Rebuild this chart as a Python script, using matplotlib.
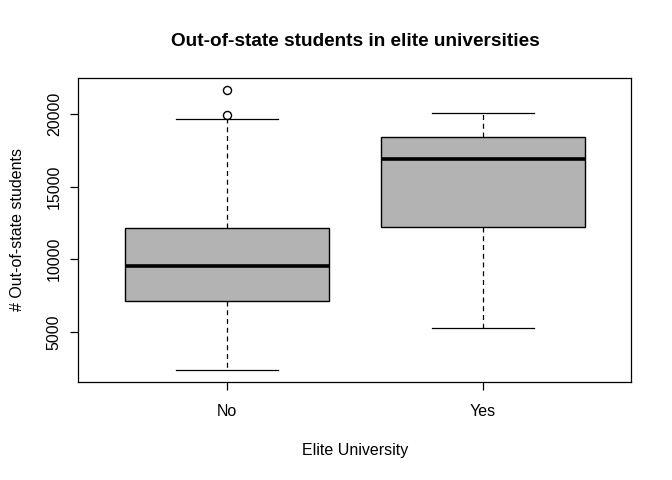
import matplotlib; matplotlib.use("Agg")
import matplotlib.pyplot as plt

plt.rcParams['font.family'] = ['Liberation Sans', 'DejaVu Sans']

groups = ["No", "Yes"]
whislo = [2340, 5250]
q1 = [7105, 12245]
med = [9560, 16945]
q3 = [12130, 18420]
whishi = [19680, 20110]
fliers = [[19960, 21700], []]

stats = [dict(label=g, whislo=lo, q1=a, med=m, q3=b, whishi=hi, fliers=f)
         for g, lo, a, m, b, hi, f in zip(groups, whislo, q1, med, q3, whishi, fliers)]

fig = plt.figure(figsize=(6.72, 4.8), dpi=100)
ax = fig.add_axes([0.1168, 0.2048, 0.8229, 0.6321])
ax.bxp(stats, positions=[1, 2], widths=0.8, patch_artist=True,
       boxprops=dict(facecolor='#b3b3b3', edgecolor='black', linewidth=1),
       medianprops=dict(color='black', linewidth=2.6, solid_capstyle='butt'),
       whiskerprops=dict(color='black', linewidth=0.9, linestyle=(0, (4, 3))),
       capprops=dict(color='black', linewidth=0.9),
       capwidths=0.4,
       flierprops=dict(marker='o', markerfacecolor='none', markeredgecolor='black',
                       markersize=5.8, markeredgewidth=1))

lo_all = min(whislo); hi_all = max(max(whishi), max(fliers[0]))
pad = 0.04 * (hi_all - lo_all)
ax.set_ylim(lo_all - pad, hi_all + pad)
ax.set_xlim(0.42, 2.58)
ax.set_yticks([5000, 10000, 15000, 20000])
ax.set_yticklabels(['5000', '10000', '15000', '20000'], rotation=90, va='center')
ax.set_xticks([1, 2])
ax.set_xticklabels(groups)
ax.tick_params(direction='out', length=6, width=0.9, labelsize=11.5, pad=10)
ax.tick_params(axis='y', pad=6)
for s in ax.spines.values():
    s.set_linewidth(0.9)

ax.set_title("Out-of-state students in elite universities", fontsize=13.7,
             fontweight='bold', pad=23)
ax.set_xlabel("Elite University", fontsize=11.5, labelpad=17)
ax.set_ylabel("# Out-of-state students", fontsize=11.5, labelpad=16)

fig.savefig("out.png", dpi=100)
